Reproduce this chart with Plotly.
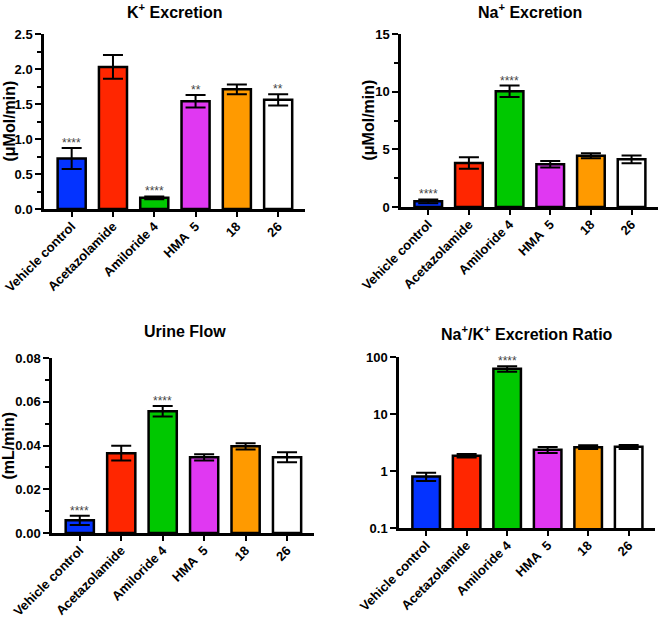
import math
import plotly.graph_objects as go

groups = ["Vehicle control", "Acetazolamide", "Amiloride 4", "HMA\u00a0\u00a05", "18", "26"]
colors = ["#0433FF", "#FF2600", "#00C800", "#E038F2", "#FF9A00", "#FFFFFF"]

k_mean = [0.72, 2.03, 0.16, 1.54, 1.71, 1.56]
k_err = [0.15, 0.17, 0.02, 0.09, 0.07, 0.08]
k_stars = ["****", "", "****", "**", "", "**"]

na_mean = [0.49, 3.81, 10.03, 3.70, 4.45, 4.13]
na_err = [0.17, 0.50, 0.50, 0.28, 0.22, 0.33]
na_stars = ["****", "", "****", "", "", ""]

flow_mean = [0.0058, 0.0365, 0.0557, 0.0346, 0.0396, 0.0346]
flow_err = [0.0021, 0.0034, 0.0024, 0.0014, 0.0014, 0.0023]
flow_stars = ["****", "", "****", "", "", ""]

ratio_mean = [0.80, 1.85, 62.0, 2.35, 2.62, 2.65]
ratio_err = [0.13, 0.13, 7.0, 0.28, 0.20, 0.22]
ratio_stars = ["", "", "****", "", "", ""]

font = "Liberation Sans, Arial, sans-serif"
W, H = 661, 617

# pixel boxes of each panel: x0, x1, ytop, ybottom
panels = [
    dict(x=(44, 305), y=(34, 209), mean=k_mean, err=k_err, stars=k_stars,
         title="K<sup>+</sup> Excretion", tx=175, ty=11, ylab="(μMol/min)", lx=9,
         yr=[0, 2.5], dtick=0.5, minor=0.25, fmt=".1f", log=False),
    dict(x=(401, 658), y=(34, 207), mean=na_mean, err=na_err, stars=na_stars,
         title="Na<sup>+</sup> Excretion", tx=530, ty=11, ylab="(μMol/min)", lx=368,
         yr=[0, 15], dtick=5, minor=2.5, fmt="d", log=False),
    dict(x=(52, 314), y=(358, 533), mean=flow_mean, err=flow_err, stars=flow_stars,
         title="Urine Flow", tx=185, ty=331, ylab="(mL/min)", lx=8,
         yr=[0, 0.08], dtick=0.02, minor=0.01, fmt=".2f", log=False),
    dict(x=(399, 655), y=(357, 528), mean=ratio_mean, err=ratio_err, stars=ratio_stars,
         title="Na<sup>+</sup>/K<sup>+</sup> Excretion Ratio", tx=527, ty=333, ylab=None, lx=None,
         yr=[-1, 2], dtick=None, minor=None, fmt=None, log=True),
]

fig = go.Figure()
annotations = []

for i, p in enumerate(panels):
    n = "" if i == 0 else str(i + 1)
    xa, ya = "x" + n, "y" + n
    fig.add_trace(go.Bar(
        x=list(range(len(groups))), y=p["mean"], xaxis=xa, yaxis=ya,
        width=0.68, marker=dict(color=colors, line=dict(color="black", width=2.5)),
        error_y=dict(type="data", array=p["err"], color="black", thickness=2, width=10),
        showlegend=False, hoverinfo="skip",
    ))

    xax = dict(
        domain=[p["x"][0] / W, p["x"][1] / W], anchor=ya, automargin=False,
        range=[-0.67, 5.65], tickmode="array", tickvals=list(range(len(groups))),
        ticktext=groups, tickangle=-45, ticks="outside", ticklen=5, tickwidth=2,
        ticklabelstandoff=-3,
        tickcolor="black", showline=True, linecolor="black", linewidth=2.5,
        showgrid=False, zeroline=False,
        tickfont=dict(family=font, size=13, color="black", weight="bold"),
    )
    yax = dict(
        domain=[1 - p["y"][1] / H, 1 - p["y"][0] / H], anchor=xa, automargin=False,
        range=p["yr"], ticks="outside", ticklen=6, tickwidth=2, tickcolor="black",
        showline=True, linecolor="black", linewidth=2.5, showgrid=False, zeroline=False,
        tickfont=dict(family=font, size=13, color="black", weight="bold"),
    )
    if p["log"]:
        yax.update(type="log", tickmode="array", tickvals=[0.1, 1, 10, 100],
                   ticktext=["0.1", "1", "10", "100"])
    else:
        yax.update(dtick=p["dtick"], tick0=0, tickformat=p["fmt"],
                   minor=dict(dtick=p["minor"], ticks="outside", ticklen=4,
                              tickwidth=2, tickcolor="black", showgrid=False))
    fig.layout["xaxis" + n] = xax
    fig.layout["yaxis" + n] = yax

    annotations.append(dict(
        text="<b>" + p["title"] + "</b>", xref="paper", yref="paper",
        x=p["tx"] / W, y=1 - p["ty"] / H, showarrow=False, xanchor="center", yanchor="middle",
        font=dict(family=font, size=16, color="black"),
    ))
    if p["ylab"]:
        annotations.append(dict(
            text="<b>" + p["ylab"] + "</b>", xref="paper", yref="paper",
            x=p["lx"] / W, y=1 - (p["y"][0] + p["y"][1]) / 2 / H, showarrow=False,
            textangle=-90, xanchor="center", yanchor="middle",
            font=dict(family=font, size=16, color="black"),
        ))
    for j, s in enumerate(p["stars"]):
        if not s:
            continue
        top = p["mean"][j] + p["err"][j]
        if p["log"]:
            top = math.log10(top)
        annotations.append(dict(
            text=s, xref=xa, yref=ya, x=j, y=top, showarrow=False,
            xanchor="center", yanchor="bottom", yshift=-4,
            font=dict(family=font, size=12, color="#444444"),
        ))

fig.update_layout(
    width=W, height=H, margin=dict(l=0, r=0, t=0, b=0),
    plot_bgcolor="white", paper_bgcolor="white",
    annotations=annotations, bargap=0.3,
)

fig.write_html("out.html", config={"displayModeBar": False},
               post_script="document.body.style.margin='0';")
